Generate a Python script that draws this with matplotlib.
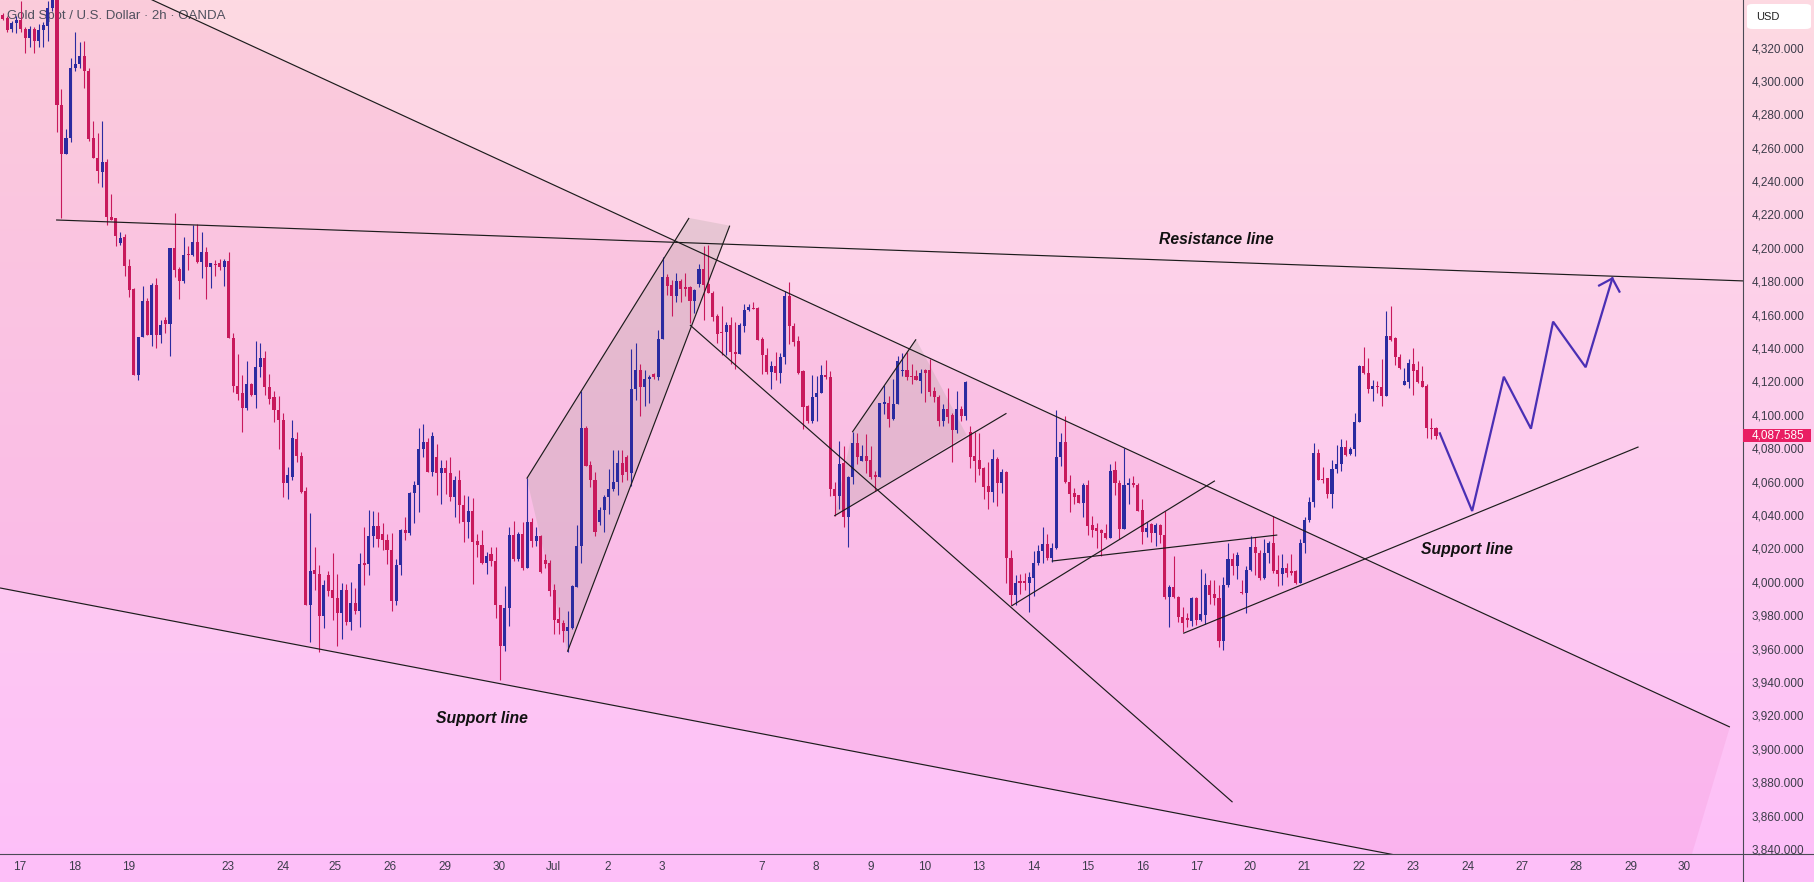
import numpy as np
import matplotlib
matplotlib.use('Agg')
import matplotlib.pyplot as plt
from matplotlib.patches import Polygon, Rectangle, FancyBboxPatch
from matplotlib.lines import Line2D

plt.rcParams['font.family'] = ['Liberation Sans', 'DejaVu Sans']

# ---------------- data (2h candles, bar index 0..317) ----------------
opens = [
 4339.7, 4337.8, 4330.8, 4334.6, 4336.5, 4331.0, 4325.7, 4331.0, 4323.9, 4330.3,
 4333.0, 4343.7, 4350.0, 4285.6, 4256.2, 4265.6, 4307.8, 4310.2, 4315.0, 4306.0,
 4266.0, 4254.0, 4245.6, 4251.4, 4218.2, 4218.0, 4202.7, 4206.7, 4189.4, 4175.5,
 4123.8, 4146.6, 4168.0, 4148.0, 4177.9, 4148.0, 4156.5, 4154.6, 4200.0, 4187.5,
 4180.0, 4196.6, 4196.0, 4203.3, 4191.5, 4197.4, 4188.6, 4190.0, 4191.0, 4188.6,
 4192.0, 4145.8, 4117.0, 4113.0, 4103.8, 4118.5, 4111.8, 4128.7, 4133.8, 4116.4,
 4110.5, 4103.0, 4096.6, 4059.1, 4063.0, 4085.6, 4075.2, 4054.3, 3986.0, 4007.0,
 4004.9, 3979.5, 4004.0, 3994.8, 3990.0, 3981.0, 3994.8, 3975.8, 3987.4, 3982.7,
 4011.5, 4010.5, 4027.6, 4033.6, 4028.6, 4025.0, 4019.0, 3988.7, 4010.0, 4031.2,
 4029.3, 4053.3, 4058.0, 4079.4, 4083.6, 4066.0, 4074.6, 4065.0, 4068.2, 4065.0,
 4050.7, 4060.7, 4045.8, 4035.7, 4042.1, 4024.4, 4022.2, 4011.5, 4016.9, 4012.6,
 3985.9, 3961.3, 3984.4, 4028.0, 4013.7, 4028.7, 4008.4, 4035.7, 4024.4, 4027.6,
 4013.0, 4011.5, 3995.0, 3978.0, 3975.2, 3970.3, 3972.4, 3997.0, 4021.6, 4092.2,
 4070.0, 4060.7, 4036.0, 4043.0, 4051.0, 4055.4, 4059.7, 4071.4, 4075.0, 4065.0,
 4115.7, 4127.0, 4116.4, 4121.3, 4124.3, 4122.8, 4145.7, 4182.7, 4177.7, 4171.3,
 4179.9, 4176.3, 4176.3, 4168.3, 4178.4, 4187.4, 4178.4, 4173.0, 4159.1, 4149.5,
 4149.5, 4153.8, 4137.7, 4136.7, 4153.4, 4162.8, 4163.8, 4163.8, 4145.2, 4136.0,
 4125.6, 4129.2, 4124.9, 4134.5, 4171.3, 4153.4, 4144.2, 4126.0, 4105.0, 4096.5,
 4110.6, 4113.1, 4123.8, 4122.5, 4055.4, 4051.5, 4071.4, 4038.7, 4062.9, 4083.2,
 4072.5, 4075.3, 4072.9, 4064.0, 4062.9, 4106.3, 4107.2, 4097.7, 4106.3, 4126.0,
 4127.0, 4123.4, 4123.4, 4120.5, 4126.9, 4126.9, 4114.5, 4110.9, 4096.5, 4103.7,
 4099.9, 4090.9, 4103.7, 4099.3, 4090.0, 4075.4, 4073.0, 4068.0, 4057.4, 4054.0,
 4073.4, 4059.4, 4066.0, 4014.1, 3992.1, 4000.1, 4000.3, 3999.5, 4002.1, 4011.1,
 4018.7, 4022.7, 4014.1, 4020.1, 4074.6, 4083.5, 4060.0, 4053.4, 4052.0, 4047.4,
 4058.0, 4034.0, 4032.0, 4031.0, 4029.5, 4026.0, 4067.0, 4059.0, 4031.4, 4058.0,
 4059.4, 4058.0, 4043.0, 4029.6, 4034.6, 4029.0, 4034.0, 4028.0, 3990.7, 3996.7,
 3991.1, 3978.7, 3978.1, 3976.7, 3990.1, 3977.1, 3980.1, 3998.1, 3992.7, 3990.1,
 3964.7, 3998.0, 4013.4, 4009.4, 3994.0, 3993.0, 4007.0, 4021.0, 4017.4, 4002.0,
 4017.4, 4023.0, 4007.0, 4004.6, 4008.0, 4006.6, 4006.6, 3999.0, 4023.0, 4037.0,
 4048.0, 4076.9, 4061.3, 4062.0, 4052.6, 4067.3, 4070.5, 4080.5, 4076.3, 4079.3,
 4095.9, 4129.2, 4125.2, 4115.3, 4117.2, 4116.4, 4111.3, 4147.2, 4145.8, 4134.8,
 4117.8, 4119.8, 4130.4, 4126.8, 4120.2, 4117.2, 4092.3, 4091.9]

highs = [
 4340.5, 4339.0, 4335.7, 4339.0, 4348.0, 4332.4, 4333.0, 4332.4, 4333.8, 4335.0,
 4348.0, 4352.0, 4354.0, 4295.0, 4271.0, 4314.0, 4329.0, 4323.0, 4324.0, 4308.0,
 4276.0, 4269.0, 4276.0, 4253.5, 4232.0, 4218.0, 4209.4, 4208.0, 4193.4, 4176.0,
 4146.6, 4177.3, 4170.0, 4178.7, 4182.0, 4156.8, 4158.6, 4200.0, 4220.6, 4188.5,
 4206.7, 4201.4, 4213.4, 4214.0, 4209.4, 4200.6, 4191.0, 4192.8, 4193.4, 4193.4,
 4197.4, 4149.3, 4136.7, 4123.8, 4132.4, 4119.0, 4144.0, 4143.0, 4138.5, 4124.6,
 4114.0, 4111.0, 4101.0, 4069.0, 4096.6, 4089.6, 4077.9, 4057.0, 4041.0, 4020.9,
 4010.0, 4000.8, 4006.6, 4017.3, 4004.5, 3999.0, 3998.7, 4000.0, 3996.0, 4017.3,
 4032.9, 4043.0, 4042.6, 4042.0, 4035.0, 4028.6, 4029.0, 4013.7, 4031.9, 4038.7,
 4053.7, 4060.1, 4092.2, 4094.3, 4086.4, 4089.6, 4082.8, 4073.0, 4073.0, 4074.6,
 4063.5, 4067.2, 4052.2, 4051.5, 4050.0, 4028.7, 4030.8, 4018.0, 4020.7, 4020.7,
 3985.9, 3997.2, 4032.9, 4036.1, 4029.7, 4035.7, 4062.2, 4038.3, 4033.0, 4028.0,
 4016.9, 4013.0, 3998.7, 3984.8, 3977.3, 3982.7, 3998.0, 4034.0, 4114.2, 4093.5,
 4072.5, 4066.0, 4044.7, 4052.2, 4067.6, 4078.9, 4078.9, 4078.9, 4075.8, 4139.3,
 4143.0, 4130.7, 4127.0, 4123.8, 4125.0, 4150.6, 4194.5, 4184.2, 4180.5, 4185.2,
 4181.2, 4184.8, 4177.3, 4175.2, 4190.6, 4201.3, 4201.9, 4174.1, 4160.2, 4165.1,
 4155.3, 4158.7, 4155.5, 4154.9, 4166.2, 4166.2, 4167.7, 4164.5, 4146.7, 4139.9,
 4132.4, 4137.7, 4137.1, 4174.1, 4179.4, 4154.9, 4147.4, 4127.0, 4105.7, 4123.8,
 4123.4, 4129.8, 4132.8, 4126.0, 4059.7, 4084.3, 4081.5, 4063.5, 4090.0, 4089.2,
 4082.1, 4088.5, 4081.5, 4066.5, 4107.2, 4117.8, 4111.0, 4121.3, 4135.0, 4137.1,
 4137.7, 4130.5, 4127.0, 4127.3, 4127.3, 4133.3, 4116.5, 4111.9, 4106.5, 4115.9,
 4100.9, 4114.5, 4105.3, 4120.5, 4093.3, 4090.0, 4089.3, 4069.0, 4072.0, 4079.4,
 4075.0, 4067.4, 4066.6, 4019.1, 4004.1, 4004.7, 4005.0, 4006.1, 4018.7, 4022.1,
 4032.6, 4028.6, 4023.1, 4102.9, 4088.9, 4099.3, 4064.0, 4056.0, 4052.0, 4059.4,
 4061.0, 4039.4, 4035.4, 4031.4, 4034.6, 4070.6, 4072.6, 4061.0, 4080.0, 4062.0,
 4063.4, 4059.0, 4049.4, 4036.0, 4035.4, 4035.4, 4034.6, 4042.6, 3998.1, 4015.5,
 3991.5, 3985.1, 3981.0, 3991.1, 3991.1, 4007.5, 4005.1, 4001.1, 4001.1, 3998.0,
 4003.0, 4023.0, 4017.4, 4018.0, 4001.0, 4009.4, 4027.4, 4026.6, 4019.0, 4025.4,
 4024.6, 4039.4, 4016.0, 4016.6, 4011.4, 4016.6, 4007.0, 4025.4, 4038.6, 4050.6,
 4083.3, 4079.3, 4068.9, 4062.3, 4072.9, 4081.9, 4085.3, 4084.9, 4080.5, 4100.9,
 4129.8, 4140.4, 4133.8, 4120.8, 4120.4, 4133.2, 4162.4, 4165.2, 4146.4, 4136.4,
 4127.8, 4133.2, 4139.8, 4132.4, 4129.2, 4118.4, 4097.9, 4092.5]

lows = [
 4336.5, 4329.0, 4329.0, 4328.4, 4329.0, 4317.0, 4320.4, 4317.0, 4320.4, 4320.4,
 4324.0, 4342.0, 4269.6, 4218.0, 4256.0, 4263.5, 4305.7, 4308.0, 4295.5, 4264.0,
 4254.0, 4239.0, 4236.7, 4213.4, 4216.9, 4201.0, 4202.0, 4183.0, 4170.7, 4123.8,
 4121.0, 4146.6, 4148.0, 4141.0, 4140.0, 4143.0, 4149.0, 4135.0, 4182.7, 4169.3,
 4178.7, 4187.0, 4195.0, 4190.7, 4182.0, 4169.3, 4176.0, 4183.0, 4187.0, 4177.0,
 4145.8, 4113.7, 4109.0, 4089.6, 4103.0, 4111.3, 4104.3, 4122.5, 4111.8, 4106.5,
 4095.8, 4079.7, 4051.0, 4049.5, 4061.0, 4071.7, 4053.0, 3986.0, 3964.0, 3995.0,
 3958.0, 3972.4, 3991.6, 3977.3, 3961.3, 3965.5, 3974.0, 3971.0, 3980.5, 3973.0,
 3998.0, 4004.0, 4020.7, 4021.0, 4019.0, 4010.5, 3982.2, 3985.9, 4004.0, 4025.0,
 4028.0, 4035.0, 4042.0, 4074.6, 4066.0, 4063.5, 4052.2, 4046.8, 4052.8, 4048.5,
 4038.7, 4035.0, 4023.8, 4026.5, 3998.7, 4014.7, 4010.9, 4004.5, 4009.4, 3978.4,
 3941.0, 3958.7, 3973.7, 4012.6, 4012.6, 4007.3, 4008.4, 4020.7, 4021.2, 4005.1,
 4008.3, 3991.2, 3968.8, 3968.8, 3963.8, 3958.1, 3972.0, 3996.6, 4011.5, 4069.3,
 4056.5, 4027.6, 4034.0, 4030.0, 4040.4, 4054.3, 4052.2, 4059.7, 4060.7, 4057.5,
 4108.9, 4099.2, 4105.0, 4107.2, 4121.7, 4120.6, 4145.7, 4172.0, 4159.1, 4167.7,
 4167.7, 4170.9, 4154.8, 4161.2, 4176.3, 4157.0, 4173.0, 4156.4, 4143.1, 4135.6,
 4135.6, 4130.7, 4127.7, 4136.7, 4149.5, 4161.9, 4163.2, 4144.6, 4124.3, 4124.3,
 4115.7, 4120.6, 4119.2, 4130.7, 4142.7, 4141.0, 4124.3, 4091.3, 4095.0, 4095.0,
 4096.0, 4113.1, 4121.7, 4051.5, 4039.4, 4043.6, 4032.9, 4020.7, 4058.6, 4070.8,
 4072.1, 4065.0, 4061.4, 4054.3, 4062.9, 4100.3, 4092.8, 4097.1, 4106.3, 4123.4,
 4120.6, 4118.4, 4120.6, 4113.3, 4107.9, 4111.3, 4107.9, 4093.3, 4093.3, 4095.3,
 4072.0, 4089.3, 4096.5, 4097.0, 4068.0, 4060.0, 4064.0, 4049.4, 4043.4, 4048.0,
 4045.4, 4053.0, 3999.5, 3986.1, 3986.1, 3992.7, 3995.0, 3982.1, 3991.5, 4010.1,
 4011.1, 4013.1, 4012.1, 4019.5, 4069.4, 4059.4, 4042.0, 4046.6, 4047.4, 4039.0,
 4028.0, 4027.0, 4020.0, 4015.5, 4025.5, 4026.0, 4052.0, 4025.5, 4031.4, 4046.6,
 4057.0, 4042.6, 4022.6, 4026.6, 4024.0, 4021.5, 4023.0, 3989.5, 3972.7, 3990.1,
 3976.1, 3970.1, 3973.1, 3973.5, 3974.1, 3976.7, 3974.7, 3986.7, 3986.1, 3961.0,
 3959.1, 3996.7, 4004.0, 4001.5, 3992.6, 3981.5, 4006.6, 4004.0, 4001.0, 4001.4,
 4011.0, 4005.4, 3997.4, 3998.0, 4002.6, 4004.0, 3998.6, 3999.0, 4017.4, 4036.0,
 4045.0, 4061.0, 4059.4, 4050.0, 4044.0, 4065.3, 4066.5, 4075.3, 4075.9, 4075.3,
 4095.9, 4124.4, 4112.9, 4108.5, 4112.9, 4105.3, 4111.3, 4144.4, 4129.8, 4127.2,
 4117.8, 4115.8, 4111.9, 4119.2, 4116.4, 4085.9, 4085.3, 4085.3]

closes = [
 4337.3, 4330.3, 4334.6, 4336.5, 4331.0, 4325.7, 4331.0, 4323.9, 4330.3, 4333.2,
 4343.7, 4348.5, 4285.6, 4256.2, 4265.6, 4307.8, 4310.2, 4315.0, 4305.7, 4265.0,
 4254.0, 4246.0, 4251.7, 4218.2, 4216.9, 4207.3, 4206.2, 4189.4, 4174.7, 4123.8,
 4146.6, 4168.0, 4148.0, 4177.9, 4148.0, 4154.0, 4154.6, 4200.0, 4186.7, 4180.0,
 4196.0, 4195.5, 4203.3, 4191.5, 4197.4, 4188.6, 4190.7, 4189.6, 4188.6, 4192.0,
 4145.8, 4117.0, 4112.6, 4103.8, 4118.5, 4111.8, 4128.7, 4133.8, 4116.4, 4109.7,
 4103.0, 4096.6, 4059.1, 4063.7, 4086.0, 4075.2, 4053.8, 3986.0, 4006.2, 4004.9,
 3979.5, 3998.0, 3994.4, 3990.0, 3981.0, 3994.8, 3975.8, 3987.4, 3982.7, 4010.9,
 4010.0, 4027.6, 4033.6, 4025.4, 4025.0, 4019.0, 3988.7, 4010.0, 4030.8, 4029.3,
 4053.3, 4058.0, 4079.4, 4083.6, 4066.0, 4087.5, 4065.0, 4068.2, 4065.0, 4050.7,
 4060.7, 4045.8, 4035.7, 4042.1, 4023.8, 4022.2, 4011.5, 4015.2, 4012.6, 3985.9,
 3961.3, 3984.4, 4028.0, 4013.7, 4028.7, 4008.4, 4035.7, 4024.4, 4027.6, 4005.6,
 4010.9, 3994.4, 3977.3, 3975.2, 3970.3, 3973.0, 3997.2, 4021.6, 4092.2, 4069.3,
 4060.7, 4029.7, 4043.2, 4051.0, 4055.4, 4059.7, 4071.4, 4064.0, 4066.0, 4115.7,
 4127.0, 4116.4, 4121.3, 4122.8, 4122.8, 4145.7, 4182.7, 4177.3, 4171.3, 4179.9,
 4175.6, 4175.6, 4168.3, 4174.7, 4187.4, 4177.7, 4173.0, 4158.5, 4148.4, 4149.1,
 4153.8, 4137.7, 4136.7, 4153.8, 4162.8, 4164.5, 4163.2, 4144.6, 4135.6, 4125.6,
 4129.2, 4124.9, 4134.5, 4171.3, 4153.2, 4143.7, 4124.9, 4104.6, 4096.5, 4110.6,
 4113.1, 4123.8, 4122.5, 4055.4, 4051.5, 4070.8, 4038.7, 4062.9, 4083.2, 4075.0,
 4075.3, 4072.5, 4062.9, 4062.9, 4107.2, 4107.6, 4097.7, 4106.3, 4132.0, 4127.0,
 4122.8, 4122.5, 4120.6, 4125.3, 4125.3, 4113.9, 4110.5, 4096.5, 4103.7, 4098.9,
 4090.9, 4103.7, 4099.3, 4119.9, 4075.0, 4072.6, 4067.4, 4057.0, 4054.0, 4073.4,
 4059.4, 4066.0, 4014.1, 3992.1, 3999.5, 3999.5, 3999.5, 4003.1, 4011.1, 4018.7,
 4022.7, 4014.1, 4020.1, 4074.6, 4083.5, 4060.0, 4052.6, 4051.0, 4047.4, 4058.0,
 4033.4, 4031.0, 4030.7, 4029.5, 4026.0, 4066.4, 4059.0, 4031.4, 4058.0, 4059.4,
 4058.0, 4042.6, 4030.0, 4032.0, 4029.4, 4034.0, 4028.0, 3990.7, 3996.7, 3990.7,
 3978.7, 3975.1, 3977.1, 3990.1, 3977.1, 3980.7, 3998.1, 3992.1, 3990.1, 3964.7,
 3998.0, 4013.4, 4009.4, 4016.0, 3993.0, 4007.0, 4021.0, 4017.4, 4002.0, 4017.4,
 4023.0, 4006.6, 4004.6, 4008.0, 4005.4, 4005.0, 3999.0, 4023.0, 4037.0, 4048.0,
 4076.9, 4061.0, 4061.0, 4052.6, 4067.3, 4070.5, 4080.5, 4075.9, 4079.3, 4095.9,
 4129.2, 4125.2, 4115.3, 4117.2, 4116.4, 4111.3, 4147.2, 4144.8, 4134.8, 4127.8,
 4120.4, 4130.8, 4126.4, 4119.8, 4116.8, 4091.9, 4091.5, 4087.6]

last_price = 4087.585

date_labels = ['17', '18', '19', '23', '24', '25', '26', '29', '30', 'Jul', '2', '3',
               '7', '8', '9', '10', '13', '14', '15', '16', '17', '20', '21', '22',
               '23', '24', '27', '28', '29', '30']
date_bars = [3.75, 15.8, 27.8, 49.8, 61.9, 73.6, 85.7, 97.7, 109.7, 121.8, 133.8, 145.8,
             167.8, 179.9, 191.9, 203.9, 215.9, 228.0, 240.0, 252.1, 264.1, 275.9, 287.9,
             299.9, 311.9, 324.0, 336.0, 348.0, 360.1, 371.8]
price_ticks = list(range(3840, 4321, 20))

# drawing anchors (bar index, price)
wedge_upper = [(33.1, 4348.45), (382.0, 3913.0)]
wedge_lower = [(-0.6, 3996.3), (370.0, 3804.2)]
resistance = [(11.8, 4216.7), (384.9, 4180.2)]
falling_line = [(152.0, 4153.8), (272.0, 3868.0)]
tri_rise = [(223.1, 3985.5), (268.1, 4060.5)]
tri_flat = [(232.0, 4012.4), (281.9, 4028.0)]
support_right = [(261.1, 3969.1), (361.8, 4080.8)]
chan1_quad = [(115.9, 4061.8), (151.8, 4217.9), (160.8, 4213.3), (124.9, 3958.1)]
chan1_upper = [(115.9, 4061.8), (151.8, 4217.9)]
chan1_lower = [(124.9, 3958.1), (160.8, 4213.3)]
chan2_quad = [(187.9, 4089.6), (202.0, 4145.2), (213.2, 4087.9), (183.9, 4039.4)]
chan2_upper = [(187.9, 4089.6), (202.0, 4145.2)]
chan2_lower = [(183.9, 4039.4), (222.0, 4100.9)]
proj_bars = [317.85, 325.0, 332.0, 338.0, 342.9, 350.1, 356.0]
proj_prices = [4088.9, 4042.4, 4122.8, 4091.7, 4155.8, 4128.5, 4181.7]

# ---------------- figure ----------------
W, H = 1815, 882
fig = plt.figure(figsize=(W / 100, H / 100), dpi=100)

bg = fig.add_axes([0, 0, 1, 1], zorder=-10)
top_c = np.array([253, 218, 226]) / 255
bot_c = np.array([254, 191, 249]) / 255
t = np.linspace(0, 1, 400)[:, None]
grad = (top_c * (1 - t) + bot_c * t)[:, None, :]
bg.imshow(grad, aspect='auto', extent=[0, 1, 0, 1], origin='upper')
bg.set_axis_off()

ax = fig.add_axes([0, 28 / H, 1743 / W, 854 / H])
ax.patch.set_visible(False)
ax.set_xlim(-0.6, 384.9)
ax.set_ylim(3836.95, 4348.45)
for s in ax.spines.values():
    s.set_visible(False)


def line_y(a, x):
    (x0, y0), (x1, y1) = a
    return y0 + (y1 - y0) * (x - x0) / (x1 - x0)


# wedge fill
xl = -20
wedge_poly = [(xl, line_y(wedge_upper, xl)), wedge_upper[1], wedge_lower[1],
              (xl, line_y(wedge_lower, xl))]
ax.add_patch(Polygon(wedge_poly, closed=True, facecolor=(0.88, 0.25, 0.58), alpha=0.09,
                     lw=0, zorder=1))
for q in (chan1_quad, chan2_quad):
    ax.add_patch(Polygon(q, closed=True, facecolor='#9c9a8c', alpha=0.22, lw=0, zorder=1.5))

# title
ax.text(7.3 / 1743, 1 - 16.5 / 854, 'Gold Spot / U.S. Dollar · 2h · OANDA',
        transform=ax.transAxes, ha='left', va='center', fontsize=9.5,
        color='#50505e', zorder=1.8)

# candles
o = np.array(opens); h = np.array(highs); l = np.array(lows); c = np.array(closes)
x = np.arange(len(o))
up_col, dn_col = '#2b2ba0', '#c8195c'
cols = [up_col if cc >= oo else dn_col for oo, cc in zip(o, c)]
ax.vlines(x, l, h, colors=cols, lw=0.8, zorder=2)
bottoms = np.minimum(o, c)
heights = np.maximum(np.abs(c - o), 0.7)
ax.bar(x, heights, bottom=bottoms, width=0.68, color=cols, linewidth=0, zorder=2.1)

# trend lines
lkw = dict(color='#1c1c1c', lw=0.85, zorder=3, solid_capstyle='butt')
ext_upper = [(0.0, line_y(wedge_upper, 0.0)), wedge_upper[1]]
for a in (ext_upper, wedge_lower, resistance, falling_line, tri_rise, tri_flat,
          support_right, chan1_upper, chan1_lower, chan2_upper, chan2_lower):
    ax.plot([a[0][0], a[1][0]], [a[0][1], a[1][1]], **lkw)

# labels
tkw = dict(fontsize=11.3, fontweight='bold', fontstyle='italic', color='#111111',
           ha='center', va='center', zorder=4)
ax.text(268.4, 4205.0, 'Resistance line', **tkw)
ax.text(323.8, 4019.6, 'Support line', **tkw)
ax.text(106.0, 3918.0, 'Support line', **tkw)

# projection path
pcol = '#4a2fb4'
ax.plot(proj_bars, proj_prices, color=pcol, lw=1.6, zorder=4, solid_joinstyle='miter')
pts = ax.transData.transform(np.column_stack([proj_bars, proj_prices]))
tip, prev = pts[-1], pts[-2]
d = (prev - tip) / np.hypot(*(prev - tip))


def rot(v, ang):
    ca, sa = np.cos(ang), np.sin(ang)
    return np.array([ca * v[0] - sa * v[1], sa * v[0] + ca * v[1]])


w1 = tip + 15 * rot(d, np.radians(45))
w2 = tip + 15 * rot(d, np.radians(-45))
inv = ax.transData.inverted()
hw = inv.transform(np.array([w1, tip, w2]))
ax.plot(hw[:, 0], hw[:, 1], color=pcol, lw=1.6, zorder=4, solid_joinstyle='miter')

# axes ticks
ax.yaxis.tick_right()
ax.set_yticks(price_ticks)
ax.set_yticklabels([f'{v:,.3f}' for v in price_ticks])
ax.tick_params(axis='y', length=0, pad=6.3, labelsize=8.5, labelcolor='#3c3c4a')
ax.set_xticks(date_bars)
ax.set_xticklabels(date_labels)
ax.tick_params(axis='x', length=0, pad=5.2, labelsize=8.5, labelcolor='#3c3c4a')

# frame lines
fig.add_artist(Line2D([0, 1], [28 / H, 28 / H], transform=fig.transFigure,
                      color='#4a4a55', lw=0.8))
fig.add_artist(Line2D([1743 / W, 1743 / W], [0, 1], transform=fig.transFigure,
                      color='#4a4a55', lw=0.8))

# last price tag
ypx = ax.transData.transform((0, last_price))[1]
fig.add_artist(Rectangle((1743 / W, (ypx - 6.8) / H), 68 / W, 13.6 / H,
                         transform=fig.transFigure, facecolor='#e91e63', edgecolor='none',
                         zorder=5))
fig.text(1751.7 / W, ypx / H, f'{last_price:,.3f}', color='white', fontsize=8.5,
         ha='left', va='center', zorder=6)

# currency box
fig.add_artist(FancyBboxPatch((1747 / W, 1 - 29 / H), 64 / W, 25 / H,
                              boxstyle='round,pad=0,rounding_size=0.003',
                              transform=fig.transFigure, facecolor='white',
                              edgecolor='none', zorder=5))
fig.text(1756 / W, 1 - 16.5 / H, 'USD', color='#222222', fontsize=8, ha='left',
         va='center', zorder=6)

fig.savefig('out.png', dpi=100)
